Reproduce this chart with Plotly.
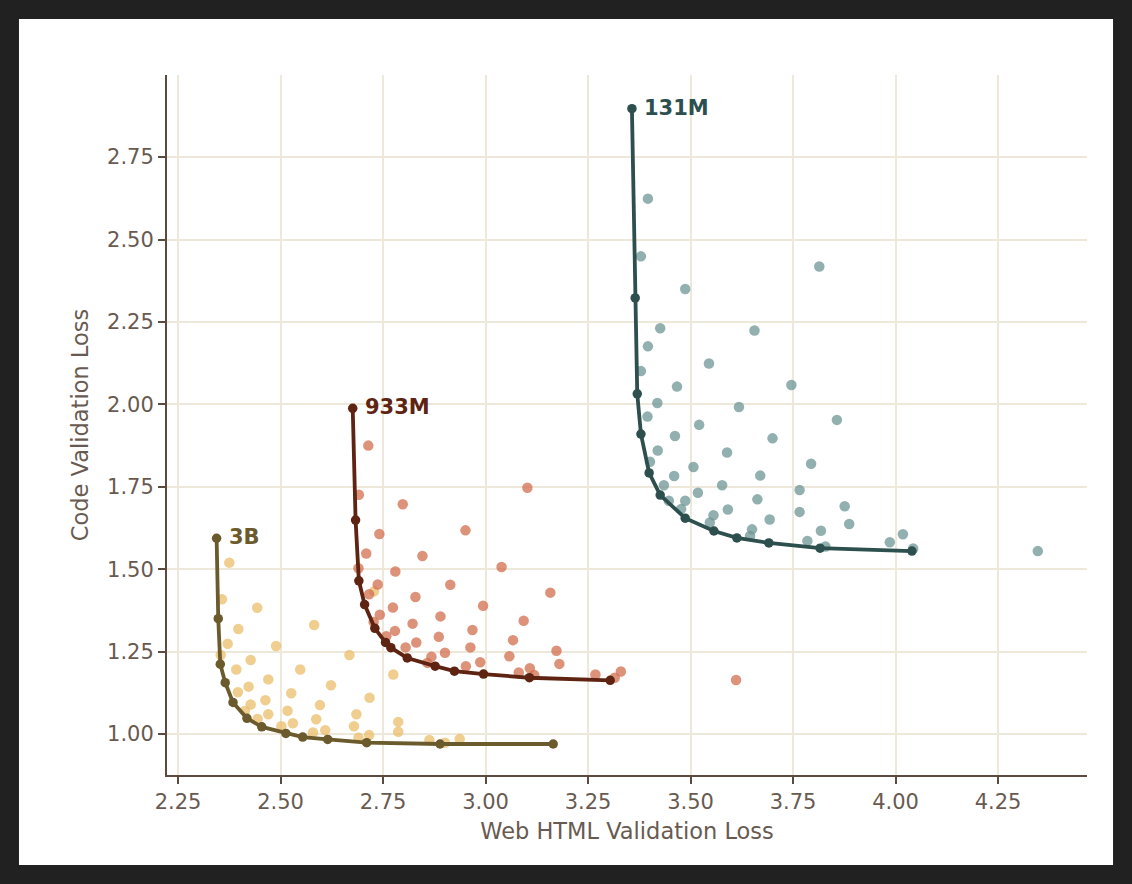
import plotly.graph_objects as go

# ---------------- data ----------------
# 131M
f131_x = [3.357, 3.365, 3.370, 3.379, 3.399, 3.426, 3.487, 3.557, 3.613, 3.691, 3.816, 4.040]
f131_y = [2.897, 2.323, 2.032, 1.910, 1.792, 1.725, 1.655, 1.616, 1.595, 1.580, 1.564, 1.555]
s131_x = [3.396, 3.379, 3.814, 3.487, 3.426, 3.656, 3.396, 3.545, 3.379, 3.467, 3.746, 3.419,
          3.618, 3.395, 3.521, 3.857, 3.462, 3.700, 3.420, 3.589, 3.401, 3.794, 3.507, 3.460,
          3.670, 3.435, 3.577, 3.766, 3.447, 3.487, 3.518, 3.663, 3.477, 3.591, 3.766, 3.876,
          3.556, 3.547, 3.693, 3.887, 3.650, 3.645, 3.818, 3.785, 3.829, 3.986, 4.018, 4.043,
          4.347]
s131_y = [2.624, 2.449, 2.418, 2.350, 2.231, 2.224, 2.176, 2.124, 2.101, 2.054, 2.059, 2.004,
          1.992, 1.963, 1.938, 1.953, 1.904, 1.897, 1.860, 1.854, 1.826, 1.820, 1.810, 1.783,
          1.784, 1.755, 1.755, 1.740, 1.708, 1.708, 1.732, 1.712, 1.683, 1.681, 1.674, 1.691,
          1.664, 1.642, 1.651, 1.637, 1.621, 1.601, 1.617, 1.586, 1.569, 1.582, 1.606, 1.563,
          1.555]

# 933M
f933_x = [2.676, 2.683, 2.691, 2.705, 2.730, 2.756, 2.769, 2.809, 2.877, 2.924, 2.995, 3.107, 3.304]
f933_y = [1.988, 1.649, 1.465, 1.393, 1.321, 1.278, 1.262, 1.231, 1.206, 1.191, 1.182, 1.171, 1.163]
s933_x = [2.714, 3.102, 2.691, 2.798, 2.951, 2.741, 2.709, 2.846, 2.690, 3.039, 2.780, 2.737,
          2.914, 2.716, 3.158, 2.829, 2.994, 2.774, 2.742, 2.890, 3.093, 2.822, 2.727, 2.968,
          2.779, 2.758, 2.886, 2.831, 3.067, 2.963, 2.805, 2.901, 3.173, 2.868, 3.058, 2.987,
          3.180, 2.858, 2.952, 3.108, 3.081, 3.119, 3.268, 3.330, 3.315, 3.611]
s933_y = [1.875, 1.747, 1.726, 1.697, 1.618, 1.607, 1.548, 1.540, 1.503, 1.507, 1.493, 1.454,
          1.453, 1.424, 1.429, 1.416, 1.389, 1.384, 1.362, 1.357, 1.344, 1.335, 1.340, 1.316,
          1.313, 1.297, 1.295, 1.278, 1.285, 1.263, 1.263, 1.247, 1.253, 1.235, 1.236, 1.218,
          1.213, 1.216, 1.206, 1.200, 1.187, 1.179, 1.181, 1.190, 1.171, 1.164]

# 3B
f3b_x = [2.344, 2.348, 2.353, 2.365, 2.384, 2.418, 2.454, 2.513, 2.554, 2.615, 2.710, 2.889, 3.165]
f3b_y = [1.594, 1.350, 1.212, 1.156, 1.096, 1.048, 1.022, 1.002, 0.991, 0.984, 0.974, 0.970, 0.970]
s3b_x = [2.375, 2.357, 2.443, 2.397, 2.582, 2.371, 2.489, 2.354, 2.668, 2.392, 2.427, 2.548,
         2.470, 2.623, 2.775, 2.396, 2.422, 2.526, 2.717, 2.463, 2.427, 2.596, 2.413, 2.470,
         2.517, 2.685, 2.787, 2.444, 2.530, 2.587, 2.679, 2.787, 2.502, 2.579, 2.609, 2.690,
         2.716, 2.863, 2.901, 2.937, 2.728]
s3b_y = [1.520, 1.409, 1.383, 1.319, 1.331, 1.274, 1.267, 1.240, 1.240, 1.196, 1.225, 1.196,
         1.166, 1.148, 1.181, 1.127, 1.144, 1.124, 1.110, 1.103, 1.090, 1.088, 1.070, 1.060,
         1.071, 1.060, 1.037, 1.046, 1.033, 1.045, 1.024, 1.007, 1.024, 1.005, 1.012, 0.989,
         0.997, 0.982, 0.974, 0.985, 1.433]

x_ticks = [2.25, 2.50, 2.75, 3.00, 3.25, 3.50, 3.75, 4.00, 4.25]
y_ticks = [1.00, 1.25, 1.50, 1.75, 2.00, 2.25, 2.50, 2.75]

series = [
    # name, frontier x, frontier y, scatter x, scatter y, line colour, scatter colour
    ("3B", f3b_x, f3b_y, s3b_x, s3b_y, "#6b5a2c", "rgba(234,190,105,0.75)"),
    ("933M", f933_x, f933_y, s933_x, s933_y, "#5e2411", "rgba(210,110,78,0.75)"),
    ("131M", f131_x, f131_y, s131_x, s131_y, "#2d4f4e", "rgba(110,150,148,0.75)"),
]

FONT = "DejaVu Sans"
TXT = "#685a50"
AXC = "#5b4a3f"
GRID = "#ede8da"

fig = go.Figure()

for name, fx, fy, sx, sy, lc, sc in series:
    fig.add_trace(go.Scatter(x=sx, y=sy, mode="markers",
                             marker=dict(size=10.5, color=sc, line=dict(width=0)),
                             showlegend=False, hoverinfo="skip"))
for name, fx, fy, sx, sy, lc, sc in series:
    fig.add_trace(go.Scatter(x=fx, y=fy, mode="lines+markers",
                             line=dict(color=lc, width=3.8),
                             marker=dict(size=9.5, color=lc),
                             showlegend=False, name=name))
    fig.add_annotation(x=fx[0], y=fy[0], text="<b>%s</b>" % name, showarrow=False,
                       xanchor="left", yanchor="middle", xshift=10, yshift=1,
                       font=dict(family=FONT, size=21, color=lc))

# white card on a dark page
fig.add_shape(type="rect", xref="paper", yref="paper",
              x0=-0.1609, x1=1.0283, y0=-0.1286, y1=1.08,
              fillcolor="white", line=dict(width=0), layer="below")

fig.update_layout(
    width=1132, height=884,
    margin=dict(l=167, r=45, t=75, b=109, pad=0),
    paper_bgcolor="#212121", plot_bgcolor="white",
    font=dict(family=FONT, color=TXT, size=21),
    showlegend=False,
)
fig.update_xaxes(range=[2.223, 4.467], tickvals=x_ticks,
                 ticktext=["%.2f" % v for v in x_ticks],
                 showgrid=True, gridcolor=GRID, gridwidth=1.5, zeroline=False,
                 showline=True, linecolor=AXC, linewidth=2,
                 ticks="outside", ticklen=7, tickwidth=1.5, tickcolor=AXC,
                 tickfont=dict(family=FONT, size=21, color=TXT),
                 title=dict(text="Web HTML Validation Loss", standoff=10,
                            font=dict(family=FONT, size=22.5, color=TXT)))
fig.update_yaxes(range=[0.876, 2.999], tickvals=y_ticks,
                 ticktext=["%.2f" % v for v in y_ticks],
                 showgrid=True, gridcolor=GRID, gridwidth=1.5, zeroline=False,
                 showline=True, linecolor=AXC, linewidth=2,
                 ticks="outside", ticklen=7, tickwidth=1.5, tickcolor=AXC,
                 tickfont=dict(family=FONT, size=21, color=TXT),
                 title=dict(text="Code Validation Loss", standoff=12,
                            font=dict(family=FONT, size=22.5, color=TXT)))

fig.write_html("out.html")
